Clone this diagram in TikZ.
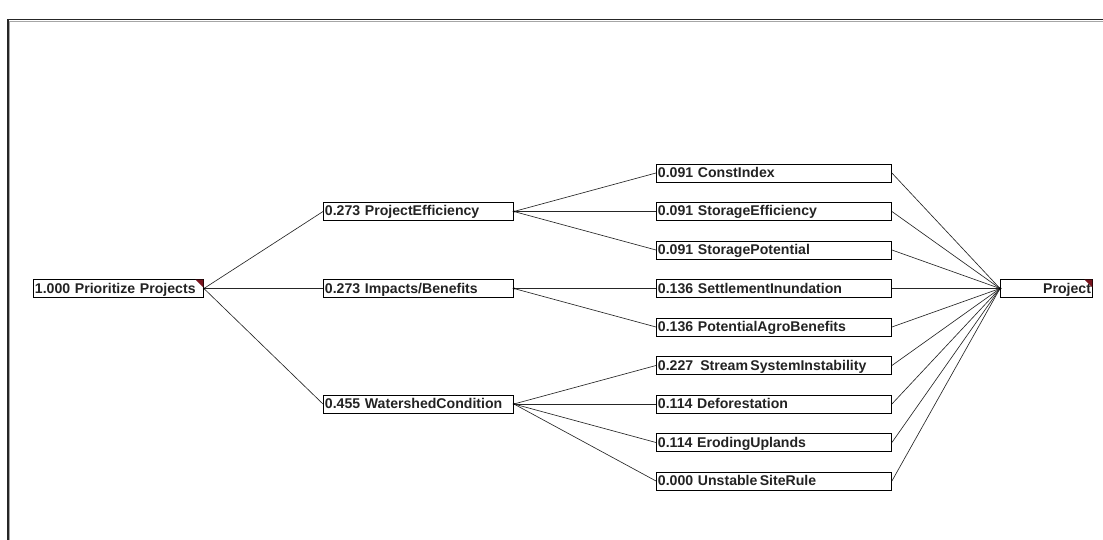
\documentclass[tikz,border=0pt]{standalone}
\usepackage{fontspec}
\setmainfont{Liberation Sans}
\definecolor{cornerred}{RGB}{120,20,30}
\definecolor{txt}{RGB}{35,35,35}
\begin{document}
\begin{tikzpicture}[x=1pt,y=-1pt,
  box/.style={draw=black, line width=0.9pt, fill=white, inner xsep=1.5pt, inner ysep=0pt,
    minimum height=18pt, text height=11pt, text depth=2pt, anchor=west, align=left, text=txt,
    font=\bfseries\fontsize{14.1}{15}\selectfont},
  rootbox/.style={box, text width=167pt},
  midbox/.style={box, text width=187pt},
  leafbox/.style={box, text width=232pt},
  goalbox/.style={box, text width=89pt, align=right},
  link/.style={draw=black!85, line width=0.65pt},
  corner/.style={fill=cornerred}]
\useasboundingbox (0,0) rectangle (1103,540);
% frame
\draw[line width=1.3pt, black!85] (8,540) -- (8,19.5) -- (1103,19.5);
\draw[line width=0.6pt, black!35] (9.6,540) -- (9.6,21.1) -- (1103,21.1);
% nodes
\node[rootbox] (root) at (33,288.5) {1.000 Prioritize Projects};
\node[midbox] (pe) at (323,211.5) {0.273 ProjectEfficiency};
\node[midbox] (ib) at (323,288.5) {0.273 Impacts/Benefits};
\node[midbox] (wc) at (323,404) {0.455 WatershedCondition};
\node[leafbox] (ci) at (656,173) {0.091 ConstIndex};
\node[leafbox] (se) at (656,211.5) {0.091 StorageEfficiency};
\node[leafbox] (sp) at (656,250) {0.091 StoragePotential};
\node[leafbox] (si) at (656,288.5) {0.136 SettlementInundation};
\node[leafbox] (pa) at (656,327) {0.136 PotentialAgroBenefits};
\node[leafbox] (ss) at (656,365.5) {0.227 \,Stream\,SystemInstability};
\node[leafbox] (df) at (656,404) {0.114 Deforestation};
\node[leafbox] (eu) at (656,442.5) {0.114 ErodingUplands};
\node[leafbox] (us) at (656,481) {0.000 Unstable\,SiteRule};
\node[goalbox] (goal) at (1000,288.5) {Project};
% corner marks
\fill[corner] ([shift={(-0.5,0.5)}]root.north east) -- ++(-8,0) -- ++(8,8) -- cycle;
\fill[corner] ([shift={(-0.5,0.5)}]goal.north east) -- ++(-8,0) -- ++(8,8) -- cycle;
% links
\foreach \m in {pe,ib,wc} \draw[link] (root.east) -- (\m.west);
\foreach \l in {ci,se,sp} \draw[link] (pe.east) -- (\l.west);
\foreach \l in {si,pa} \draw[link] (ib.east) -- (\l.west);
\foreach \l in {ss,df,eu,us} \draw[link] (wc.east) -- (\l.west);
\foreach \l in {ci,se,sp,si,pa,ss,df,eu,us} \draw[link] (\l.east) -- (goal.west);
\foreach \m in {pe,ib,wc} \fill (\m.east) circle (1.3);
\fill (goal.west) circle (1.5);
\fill (root.east) circle (1);
\end{tikzpicture}
\end{document}
